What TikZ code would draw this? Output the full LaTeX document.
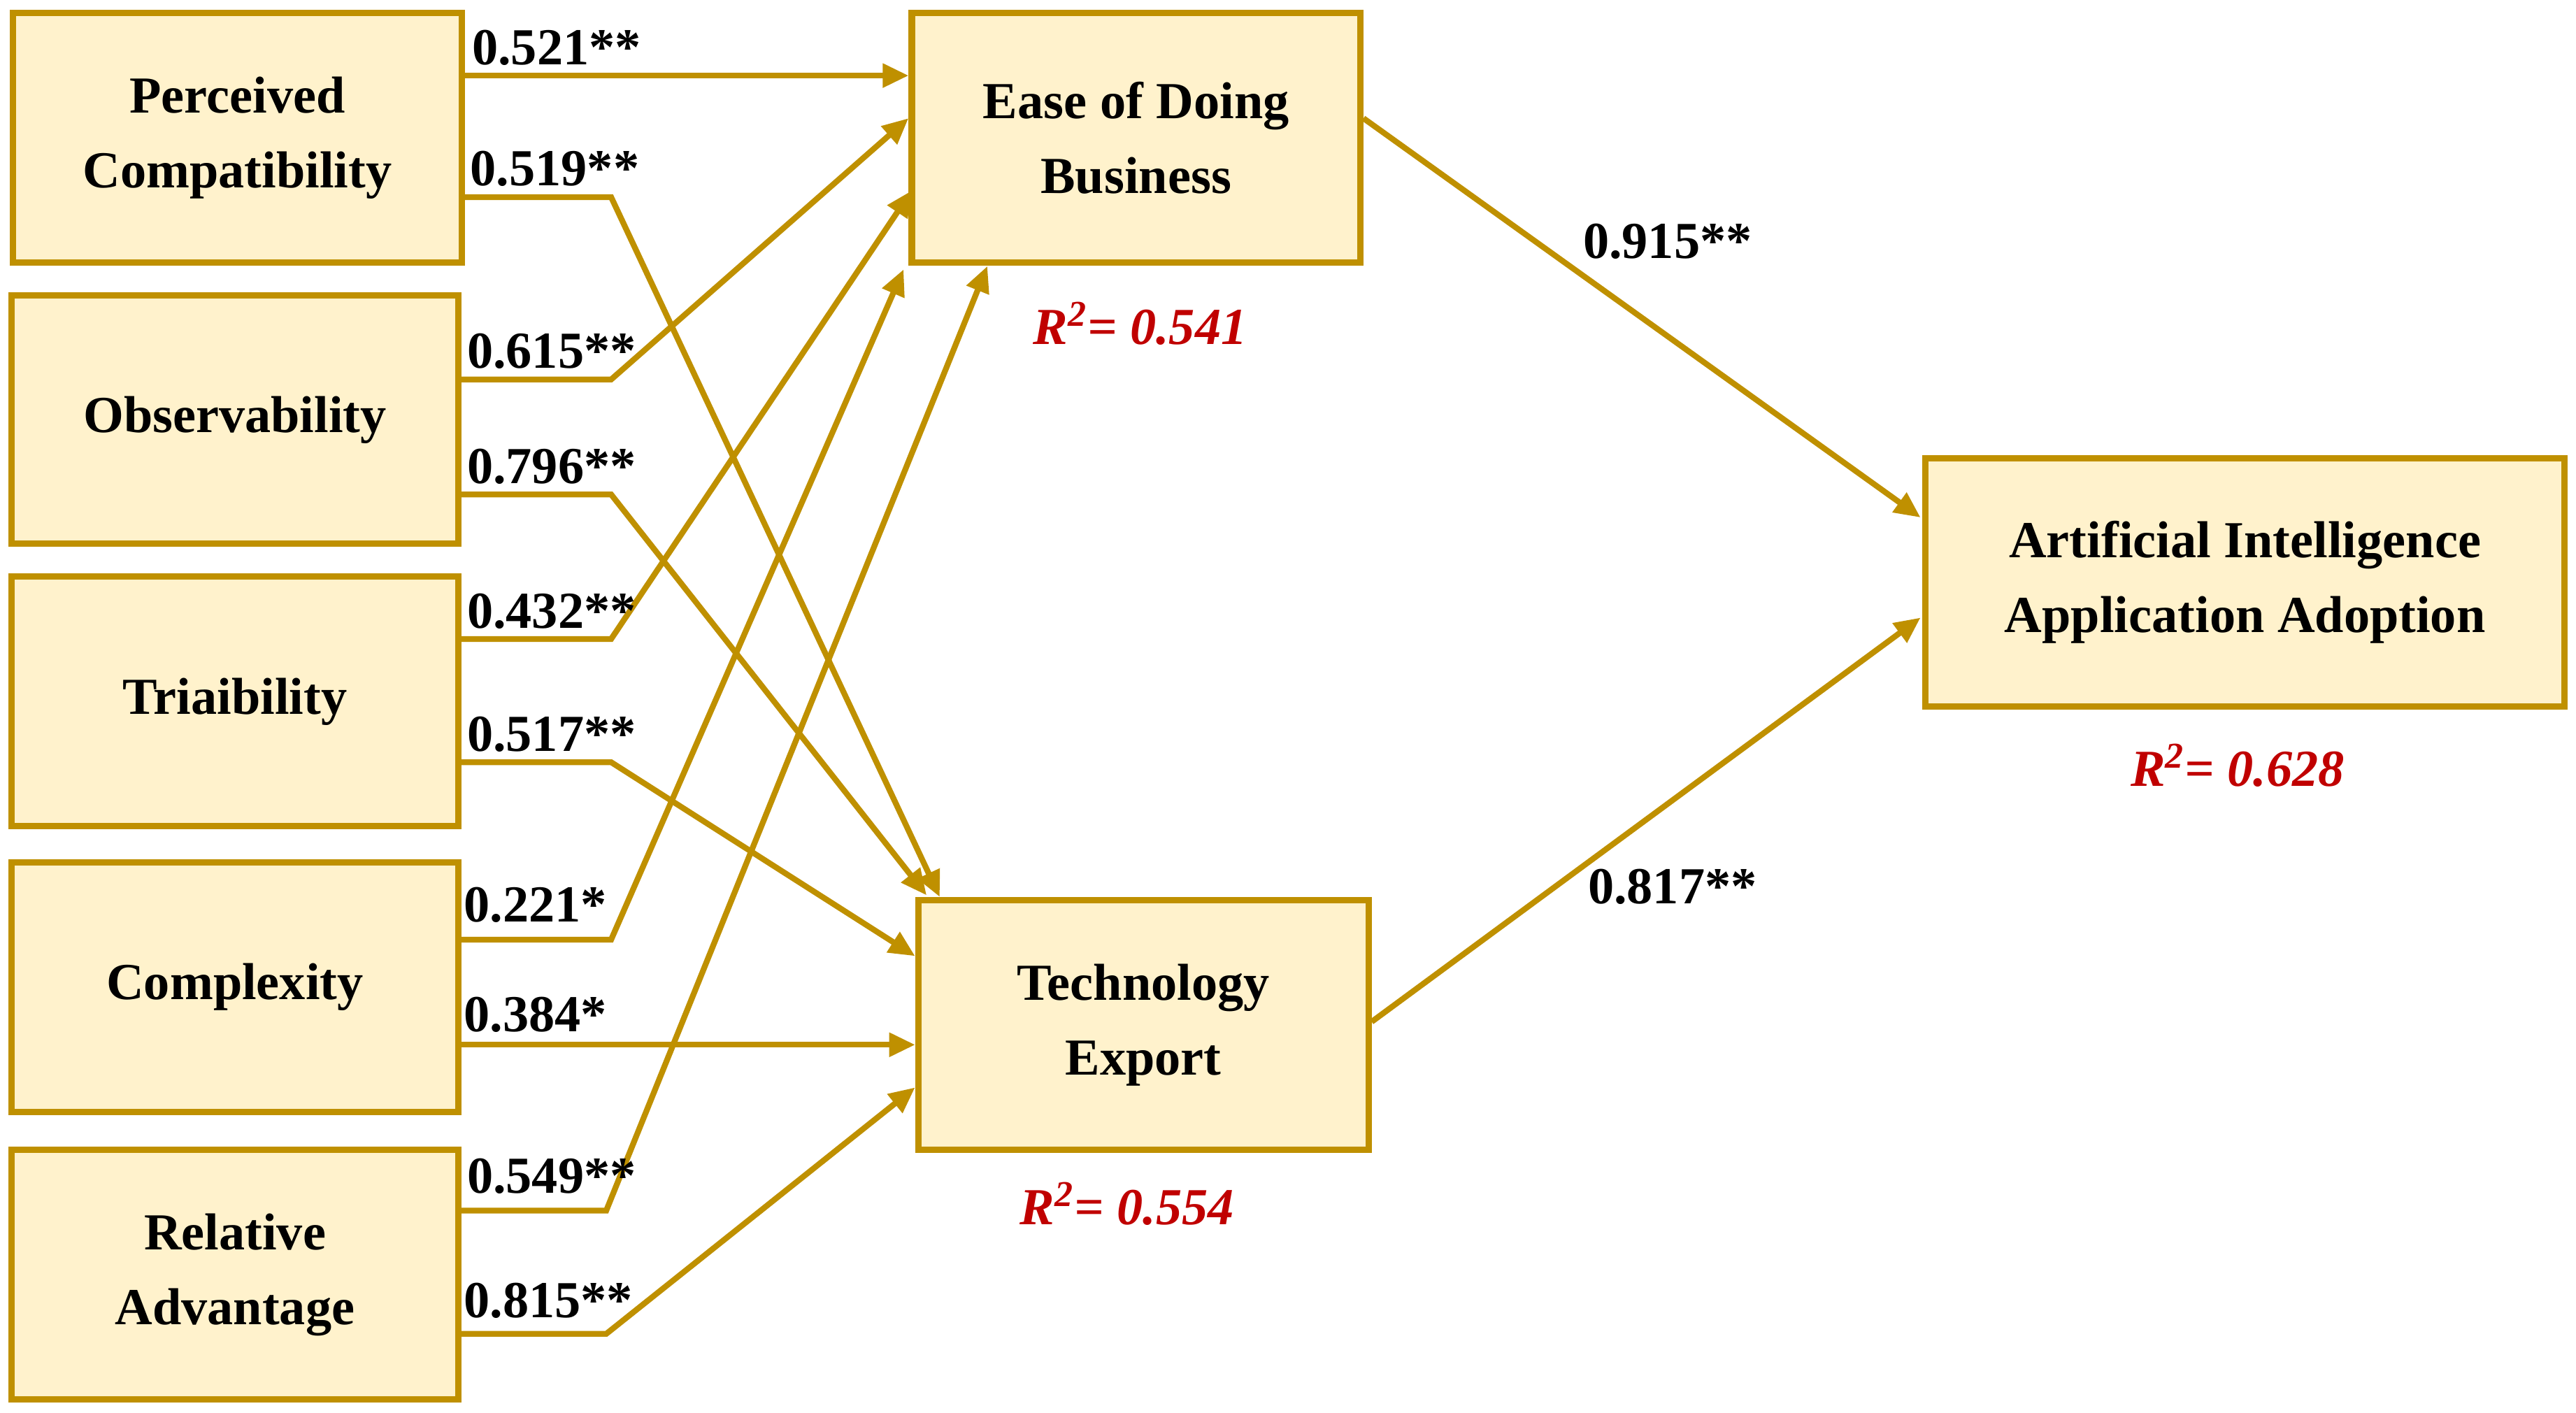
\documentclass[tikz,border=0pt]{standalone}
\usepackage{fontspec}
\setmainfont{Liberation Serif}
\usetikzlibrary{arrows.meta}
\definecolor{gold}{HTML}{BF9000}
\definecolor{boxfill}{HTML}{FFF2CC}
\definecolor{rred}{HTML}{C00000}
\tikzset{
 box/.style={draw=gold,fill=boxfill,line width=2.2pt,align=center,font=\fontsize{18}{26}\selectfont\bfseries},
 conn/.style={draw=gold,line width=2pt,-{Triangle[length=9pt,width=8pt]}},
 coef/.style={anchor=south west,inner sep=0pt,font=\fontsize{18}{20}\selectfont\bfseries},
 rsq/.style={text=rred,font=\fontsize{18}{20}\selectfont\bfseries\itshape},
}
\begin{document}
\begin{tikzpicture}[x=0.02cm,y=-0.02cm]
\useasboundingbox (0,0) rectangle (1568,860);
\newcommand{\bx}[6]{\node[box,minimum width={(#4-#2)*0.02cm},minimum height={(#5-#3)*0.02cm}] (#1) at ({(#2+#4)/2},{(#3+#5)/2}) {#6};}
\bx{pc}{8}{8}{281}{160}{Perceived\\Compatibility}
\bx{ob}{7}{180}{279}{331}{Observability}
\bx{tr}{7}{351}{279}{503}{Triaibility}
\bx{co}{7}{525}{279}{677}{Complexity}
\bx{ra}{7}{700}{279}{852}{Relative\\Advantage}
\bx{ed}{555}{8}{828}{160}{Ease of Doing\\Business}
\bx{te}{559}{548}{833}{700}{Technology\\Export}
\bx{ai}{1172}{279}{1561}{430}{Artificial Intelligence\\Application Adoption}
% connectors
\draw[conn] (pc.east |- 0,46) -- (ed.west |- 0,46);
\node[coef] at (287,40) {0.521**};
\draw[conn] (pc.east |- 0,120) -- (372,120) -- (572,546);
\node[coef] at (286,114) {0.519**};
\draw[conn] (ob.east |- 0,231) -- (372,231) -- (553,72);
\node[coef] at (284,225) {0.615**};
\draw[conn] (ob.east |- 0,301) -- (372,301) -- (564,545);
\node[coef] at (284,295) {0.796**};
\draw[conn] (tr.east |- 0,389) -- (372,389) -- (555,116);
\node[coef] at (284,383) {0.432**};
\draw[conn] (tr.east |- 0,464) -- (372,464) -- (557,582);
\node[coef] at (284,458) {0.517**};
\draw[conn] (co.east |- 0,572) -- (372,572) -- (550,164);
\node[coef] at (282,562) {0.221*};
\draw[conn] (co.east |- 0,636) -- (te.west |- 0,636);
\node[coef] at (282,629) {0.384*};
\draw[conn] (ra.east |- 0,737) -- (369,737) -- (601,162);
\node[coef] at (284,727) {0.549**};
\draw[conn] (ra.east |- 0,812) -- (369,812) -- (557,662);
\node[coef] at (282,803) {0.815**};
\draw[conn] (ed.east |- 0,72) -- (1169,315);
\node[font=\fontsize{18}{20}\selectfont\bfseries] at (1015,147) {0.915**};
\draw[conn] (te.east |- 0,622) -- (1169,376);
\node[font=\fontsize{18}{20}\selectfont\bfseries] at (1018,540) {0.817**};
\node[rsq] at (694,197) {R\textsuperscript{2}= 0.541};
\node[rsq] at (1362,466) {R\textsuperscript{2}= 0.628};
\node[rsq] at (686,733) {R\textsuperscript{2}= 0.554};
\end{tikzpicture}
\end{document}
